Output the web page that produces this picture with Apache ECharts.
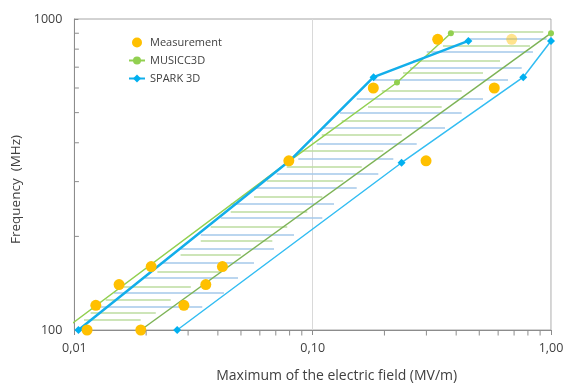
<!DOCTYPE html>
<html><head><meta charset="utf-8">
<script src="https://cdn.jsdelivr.net/npm/echarts@6/dist/echarts.min.js"></script>
<style>html,body{margin:0;padding:0;background:#fff}#c{width:567px;height:386px}</style>
</head><body><div id="c"></div>
<script>
// ---- data ----
const xTickLabels = ['0,01', '0,10', '1,00'];
const yTickLabels = ['100', '1000'];
const xMinorTicks = [0.02,0.03,0.04,0.05,0.06,0.07,0.08,0.09,0.2,0.3,0.4,0.5,0.6,0.7,0.8,0.9];
const yMinorTicks = [200,300,400,500,600,700,800,900];

const measX = [0.0113,0.019,0.0123,0.0288,0.0154,0.0356,0.021,0.0418,0.0794,0.299,0.1796,0.578,0.3346,0.684];
const measF = [100,100,120,120,140,140,160,160,350,350,600,600,860,860];
const measFaded = [13];

const musiccLeftX = [0.009,0.08,0.2258,0.38];
const musiccLeftF = [100,350,625,900];
const musiccRightX = [0.019,1.0];
const musiccRightF = [100,900];

const sparkLeftX = [0.0104,0.08,0.18,0.45];
const sparkLeftF = [100,350,650,850];
const sparkRightX = [0.027,0.236,0.765,1.0];
const sparkRightF = [100,345,650,850];

const greenHatchF  = [913,823,734,674,588,522,470,424,376,335,301,268,240,215,194,175,154,138,125,114,108];
const greenHatchX1 = [0.383,0.352,0.2636,0.2393,0.1949,0.1707,0.1323,0.1091,0.0899,0.0778,0.0641,0.0567,0.0453,0.0373,0.0339,0.0279,0.0223,0.01614,0.01353,0.0117,0.01097];
const greenHatchX2 = [0.928,0.816,0.611,0.5185,0.4219,0.3477,0.2867,0.2363,0.1979,0.1606,0.1344,0.1097,0.0949,0.0782,0.0677,0.0499,0.0411,0.0308,0.02536,0.02195,0.01897];

const blueHatchF  = [864,787,699,638,553,498,447,396,356,319,287,254,229,202,182,165,147,132,119];
const blueHatchX1 = [0.4484,0.301,0.256,0.179,0.153,0.1302,0.1108,0.1039,0.087,0.0706,0.0563,0.0453,0.0411,0.0339,0.0279,0.023,0.0198,0.01467,0.01268];
const blueHatchX2 = [0.959,0.84,0.7535,0.66,0.5185,0.4219,0.359,0.2732,0.2179,0.1885,0.153,0.1229,0.1097,0.0835,0.0688,0.0567,0.0486,0.0424,0.0344];

// ---- build ----
const zip = (xs, ys) => xs.map((x, i) => [x, ys[i]]);
const hatch = (fs, x1s, x2s) => fs.map((f, i) => ({ coords: [[x1s[i], f], [x2s[i], f]] }));
const FONT = 'Open Sans';
const TXT = '#404040';
const AX = '#8c8c8c';

const measData = measX.map((x, i) => {
  const d = { value: [x, measF[i]] };
  if (measFaded.includes(i)) d.itemStyle = { opacity: 0.45 };
  return d;
});

const chart = echarts.init(document.getElementById('c'), null, { renderer: 'canvas' });
chart.setOption({
  animation: false,
  backgroundColor: '#fff',
  textStyle: { fontFamily: FONT },
  grid: { left: 74.4, right: 16, top: 19, bottom: 56, show: true, borderColor: '#a6a6a6', borderWidth: 1,
          containLabel: false, outerBoundsMode: 'none' },
  legend: {
    data: ['Measurement', 'MUSICC3D', 'SPARK 3D'],
    orient: 'vertical', left: 123, top: 32, itemGap: 7, itemWidth: 16, itemHeight: 10,
    textStyle: { fontFamily: FONT, fontSize: 11, color: TXT }
  },
  xAxis: {
    type: 'log', logBase: 10, min: 0.01, max: 1,
    name: 'Maximum of the electric field (MV/m)', nameLocation: 'middle', nameGap: 39,
    nameTextStyle: { fontFamily: FONT, fontSize: 14, color: TXT, padding: [0, 0, 0, 48] },
    axisLine: { show: true, lineStyle: { color: AX, width: 1 } },
    axisTick: { show: true, inside: false, length: 5, lineStyle: { color: AX } },
    axisLabel: { margin: 12, fontFamily: FONT, fontSize: 12.5, color: TXT,
      formatter: v => xTickLabels[Math.round(Math.log10(v)) + 2] },
    splitLine: { show: true, lineStyle: { color: '#d9d9d9', width: 1 } }
  },
  yAxis: {
    type: 'log', logBase: 10, min: 100, max: 1000,
    name: 'Frequency  (MHz)', nameLocation: 'middle', nameGap: 49,
    nameTextStyle: { fontFamily: FONT, fontSize: 13.5, color: TXT, padding: [0, 30, 0, 0] },
    axisLine: { show: true, lineStyle: { color: AX, width: 1 } },
    axisTick: { show: true, inside: true, length: 4, lineStyle: { color: AX } },
    axisLabel: { margin: 12, fontFamily: FONT, fontSize: 12.5, color: TXT,
      formatter: v => yTickLabels[Math.round(Math.log10(v)) - 2] },
    splitLine: { show: false }
  },
  series: [
    { type: 'lines', coordinateSystem: 'cartesian2d', silent: true, z: 1,
      data: hatch(greenHatchF, greenHatchX1, greenHatchX2),
      lineStyle: { color: '#bcdca0', width: 1.5, opacity: 1 } },
    { type: 'lines', coordinateSystem: 'cartesian2d', silent: true, z: 1,
      data: hatch(blueHatchF, blueHatchX1, blueHatchX2),
      lineStyle: { color: '#a4c8ea', width: 1.5, opacity: 1 } },
    { name: 'MUSICC3D', type: 'line', z: 3, data: zip(musiccLeftX, musiccLeftF),
      symbol: 'circle', symbolSize: 6, showSymbol: true,
      lineStyle: { color: '#92d050', width: 1.5 }, itemStyle: { color: '#92d050' } },
    { name: 'MUSICC3D', type: 'line', z: 3, data: zip(musiccRightX, musiccRightF),
      symbol: 'circle', symbolSize: 6,
      lineStyle: { color: '#7db356', width: 1.5 }, itemStyle: { color: '#92d050' } },
    { name: 'SPARK 3D', type: 'line', z: 4, data: zip(sparkLeftX, sparkLeftF),
      symbol: 'diamond', symbolSize: 8,
      lineStyle: { color: '#13aeea', width: 2.5 }, itemStyle: { color: '#00b0f0' } },
    { name: 'SPARK 3D', type: 'line', z: 4, data: zip(sparkRightX, sparkRightF),
      symbol: 'diamond', symbolSize: 8,
      lineStyle: { color: '#33bdf2', width: 1.5 }, itemStyle: { color: '#00b0f0' } },
    { name: 'Measurement', type: 'scatter', z: 5, data: measData,
      symbol: 'circle', symbolSize: 11, itemStyle: { color: '#ffc000', opacity: 1 } },
    { type: 'scatter', silent: true, clip: false, z: 6, data: xMinorTicks.map(x => [x, 100]),
      symbol: 'rect', symbolSize: [1, 5], symbolOffset: [0, 3], itemStyle: { color: AX, opacity: 1 } },
    { type: 'scatter', silent: true, clip: false, z: 6, data: yMinorTicks.map(f => [0.01, f]),
      symbol: 'rect', symbolSize: [4, 1], symbolOffset: [2.5, 0], itemStyle: { color: AX, opacity: 1 } }
  ]
});
</script></body></html>
